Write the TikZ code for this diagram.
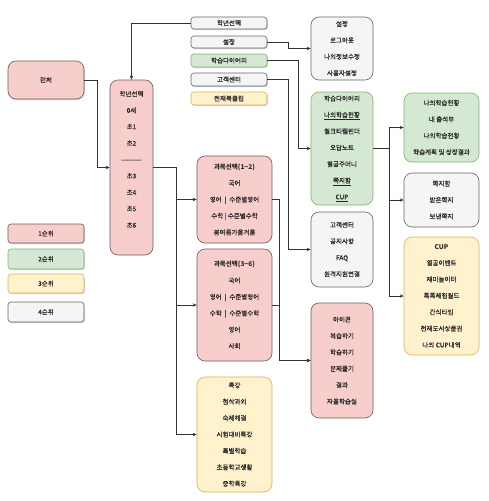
\documentclass[tikz,border=0pt]{standalone}
\usepackage{fontspec}
\setmainfont{Noto Sans CJK KR}[UprightFeatures={FakeBold=0.5}]
\usetikzlibrary{arrows.meta,shadows}

% draw.io like palette
\definecolor{pinkfill}{HTML}{F8CECC}
\definecolor{pinkline}{HTML}{6E5A5A}
\definecolor{greenfill}{HTML}{D5E8D4}
\definecolor{greenline}{HTML}{82B366}
\definecolor{yellowfill}{HTML}{FFF2CC}
\definecolor{yellowline}{HTML}{D6B656}
\definecolor{grayfill}{HTML}{F5F5F5}
\definecolor{grayline}{HTML}{666666}
\definecolor{wire}{HTML}{333333}

\begin{document}
\begin{tikzpicture}[x=1pt,y=-1pt,
    font=\fontsize{6.5}{16.4}\selectfont,
    every node/.style={align=center, inner sep=0pt, text=black!85},
    sz/.style 2 args={minimum width=#1, minimum height=#2},
    pinkbox/.style={draw=pinkline, fill=pinkfill, line width=0.6pt, rounded corners=8pt},
    greenbox/.style={draw=greenline, fill=greenfill, line width=0.6pt, rounded corners=8pt},
    yellowbox/.style={draw=yellowline, fill=yellowfill, line width=0.6pt, rounded corners=8pt},
    graybox/.style={draw=grayline, fill=grayfill, line width=0.6pt, rounded corners=8pt},
    small/.style={rounded corners=3pt},
    shade/.style={drop shadow={opacity=0.35, shadow xshift=0.8pt, shadow yshift=-1.2pt}},
    wireline/.style={draw=wire, line width=0.7pt},
    >={Stealth[length=4pt,width=3.4pt]}]

    \fill[white] (0,0) rectangle (489,501);
    \useasboundingbox (0,0) rectangle (489,501);

    % --- Launcher and grade column (left) ---
    \node[pinkbox, sz={76}{38}, shade] (launcher) at (46,80) {런처};
    \node[pinkbox, sz={43}{175}] (grade) at (131.5,167.5)
         {학년선택\\0세\\초1\\초2\\-{}-{}-{}-{}-{}-{}-{}-{}-\\초3\\초4\\초5\\초6\\{}};

    % --- Legend ---
    \node[pinkbox, small, sz={76}{19}, shade] (prio1) at (46,233.5) {1순위};
    \node[greenbox, small, sz={76}{20}, shade] (prio2) at (46,259) {2순위};
    \node[yellowbox, small, sz={76}{19}, shade] (prio3) at (46,283.5) {3순위};
    \node[graybox, small, sz={76}{20}, shade] (prio4) at (46,312) {4순위};

    % --- Top menu ---
    \node[graybox, small, sz={76}{12}, shade] (mgrade) at (229,23) {학년선택};
    \node[graybox, small, sz={76}{12}, shade] (msetting) at (229,42) {설정};
    \node[greenbox, small, sz={76}{13}, shade] (mdiary) at (229,60.5) {학습다이어리};
    \node[graybox, small, sz={76}{13}, shade] (mservice) at (229,79.5) {고객센터};
    \node[yellowbox, small, sz={76}{13}, shade] (mclub) at (229,98.5) {천재북클럽};

    % --- Subject boxes (middle) ---
    \node[pinkbox, sz={75}{87}] (subjlow) at (234.5,199.5)
         {\bfseries 과목선택(1\textasciitilde2)\\국어\\영어 \ | \ 수준별영어\\수학 | 수준별수학\\봄여름가을겨울};
    \node[pinkbox, sz={75}{112}] (subjhigh) at (234.5,305)
         {\bfseries 과목선택(3\textasciitilde6)\\국어\\영어 \ | \ 수준별영어\\수학 \ | \ 수준별수학\\영어\\사회};
    \node[yellowbox, sz={75}{115}] (special) at (234.5,434.5)
         {특강\\첨삭과외\\숙제해결\\시험대비특강\\특별학습\\초등학교생활\\중학특강};

    % --- Menu targets ---
    \node[graybox, sz={62}{63}] (setting) at (342,48.5)
         {설정\\로그아웃\\나의정보수정\\사용자설정};
    \node[greenbox, sz={62}{113}] (diary) at (342,148.5)
         {학습다이어리\\\underline{나의학습현황}\\월크티켈린더\\오답노트\\열공주머니\\\underline{쪽지함}\\\underline{CUP}};
    \node[graybox, sz={62}{75}] (service) at (342,249.5)
         {고객센터\\공지사항\\FAQ\\원격지원연결};
    \node[pinkbox, sz={62}{115}] (icon) at (342,360.5)
         {아이콘\\복습하기\\학습하기\\문제풀기\\결과\\자율학습실};

    % --- Diary details (right) ---
    \node[greenbox, sz={75}{69}] (mystudy) at (441.5,127.5)
         {나의학습현황\\내 출석부\\나의학습현황\\학습계획 및 상장결과};
    \node[graybox, sz={75}{54}] (notebox) at (441.5,200)
         {쪽지함\\받은쪽지\\보낸쪽지};
    \node[yellowbox, sz={75}{118}] (cup) at (441.5,296)
         {\bfseries CUP\\열공이벤트\\재미놀이터\\톡톡체험월드\\간식타임\\천재도서상품권\\나의 CUP내역};

    % --- Connectors ---
    \draw[wireline, ->] (launcher.east) -- ++(13,0) |- (grade.west);
    \draw[wireline, ->] (mgrade.west) -| (grade.north);
    \draw[wireline, ->] (msetting.east) -- ++(21,0) |- (setting.west);
    \draw[wireline, ->] (mdiary.east) -- ++(31,0) |- (diary.west);
    \draw[wireline, ->] (mservice.east) -- ++(21,0) |- (service.west);

    \draw[wireline, ->] (grade.east) -- ++(23,0) |- (subjlow.west);
    \draw[wireline, ->] (grade.east) -- ++(23,0) |- (subjhigh.west);
    \draw[wireline, ->] (grade.east) -- ++(23,0) |- (special.west);

    \draw[wireline, ->] (subjlow.east) -- ++(7,0) |- (icon.west);
    \draw[wireline, ->] (subjhigh.east) -- ++(7,0) |- (icon.west);

    \draw[wireline, ->] (diary.east) -- ++(16,0) |- (mystudy.west);
    \draw[wireline, ->] (diary.east) -- ++(16,0) |- (notebox.west);
    \draw[wireline, ->] (diary.east) -- ++(16,0) |- (cup.west);

\end{tikzpicture}
\end{document}
